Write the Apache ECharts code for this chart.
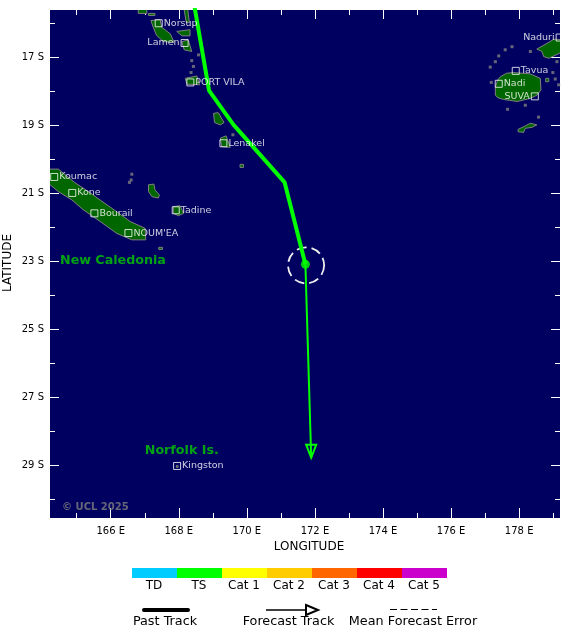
<!DOCTYPE html>
<html><head><meta charset="utf-8">
<style>html,body{margin:0;padding:0;background:#fff}#c{width:580px;height:638px}</style>
<script src="https://cdn.jsdelivr.net/npm/echarts@6/dist/echarts.min.js"></script>
</head><body><div id="c"></div>
<script>
const lonMajor=[166,168,170,172,174,176,178];
const lonMinor=[165,167,169,171,173,175,177,179];
const latMajor=[17,19,21,23,25,27,29];
const latMinor=[16,18,20,22,24,26,28,30];
const pastTrack=[[168.44,15.4],[168.89,17.99],[169.61,19.0],[171.11,20.69],[171.72,23.1]];
const forecastTrack=[[171.72,23.1],[171.89,28.79]];
const currentPos=[[171.72,23.1]];
const meanError=[[171.74,23.13,0.53]];
const categories=['TD','TS','Cat 1','Cat 2','Cat 3','Cat 4','Cat 5'];
const catColors=['#00ccff','#00ff00','#ffff00','#ffcc00','#ff6600','#ff0000','#cc00cc'];
const islands=[
[[164.1,20.3],[164.46,20.3],[164.61,20.42],[164.95,20.7],[165.39,20.99],[165.69,21.21],[166.13,21.52],[166.57,21.84],[167.01,22.04],[167.03,22.38],[166.62,22.38],[166.18,22.19],[165.69,21.84],[165.2,21.5],[164.85,21.2],[164.46,20.96],[164.1,20.66]],
[[167.11,20.76],[167.27,20.74],[167.3,20.91],[167.43,21.06],[167.4,21.15],[167.21,21.11],[167.11,20.96]],
[[167.84,21.4],[168.04,21.38],[168.14,21.6],[167.99,21.67],[167.84,21.6]],
[[167.18,15.93],[167.45,15.9],[167.5,16.13],[167.75,16.32],[167.86,16.57],[167.55,16.55],[167.35,16.37],[167.25,16.13]],
[[167.94,16.25],[168.33,16.2],[168.33,16.38],[168.09,16.38]],
[[168.14,15.5],[168.25,15.5],[168.31,15.99],[168.22,15.99]],
[[168.09,16.55],[168.28,16.5],[168.38,16.84],[168.16,16.79]],
[[166.81,15.5],[167.06,15.5],[167.06,15.72],[166.81,15.72]],
[[167.11,15.72],[167.3,15.72],[167.3,15.78],[167.11,15.78]],
[[168.19,17.63],[168.53,17.56],[168.61,17.82],[168.24,17.8]],
[[169.02,18.66],[169.16,18.64],[169.33,18.93],[169.22,19],[169.05,18.93]],
[[169.22,19.39],[169.39,19.32],[169.51,19.66],[169.26,19.64]],
[[177.3,17.89],[177.37,17.68],[177.45,17.58],[177.63,17.48],[177.84,17.46],[178.33,17.5],[178.62,17.63],[178.64,17.97],[178.53,18.12],[178.33,18.22],[177.94,18.31],[177.54,18.25],[177.37,18.2],[177.3,18.12]],
[[178.52,16.77],[178.82,16.6],[179.02,16.48],[179.4,16.5],[179.4,16.79],[178.87,17.04],[178.72,16.99],[178.67,16.84]],
[[177.97,19.13],[178.18,19.03],[178.33,18.95],[178.52,19],[178.38,19.07],[178.18,19.1],[178.13,19.22],[177.97,19.2]],
[[178.78,17.63],[178.87,17.63],[178.87,17.73],[178.78,17.73]],
[[169.8,20.16],[169.9,20.16],[169.9,20.25],[169.8,20.25]],
[[167.41,22.6],[167.52,22.6],[167.52,22.66],[167.41,22.66]],
[[167.93,29.02],[167.98,29.02],[167.98,29.07],[167.93,29.07]]
];
const islets=[[166.55,20.69],[166.6,20.62],[166.62,20.45],[168.58,16.94],[168.38,17.11],[168.43,17.28],[168.36,17.46],[169.59,19.29],[178.18,18.42],[177.66,18.54],[178.57,18.77],[178.33,16.84],[177.18,17.75],[177.15,17.3],[177.3,17.14],[177.4,16.97],[177.59,16.79],[177.79,16.7],[178.99,17.46],[179.06,17.65],[179.16,17.82],[179.11,17.14]];
const citiesRight=[['Norsup',167.41,16.01],['PORT VILA',168.34,17.75],['Lenakel',169.31,19.54],['Koumac',164.34,20.53],['Kone',164.87,21.0],['Bourail',165.52,21.6],["NOUM'EA",166.52,22.18],['Tadine',167.91,21.51],['Kingston',167.95,29.03],['Tavua',177.9,17.41],['Nadi',177.4,17.79]];
const citiesLeft=[['Lamen',168.17,16.59],['Naduri',179.19,16.43],['SUVA',178.46,18.16]];
const regionLabels=[['New Caledonia',164.51,23.0],['Norfolk Is.',167.0,28.59]];
const creditLabel=[['© UCL 2025',164.57,30.24]];

const F='"DejaVu Sans"';
const xBounds={min:164.216,max:179.2}, yBounds={min:15.62,max:30.56};
function xAxis(pos,vals,len,label){return Object.assign({type:'value',position:pos},xBounds,{
  splitLine:{show:false},axisLine:{show:false},
  axisTick:{show:true,inside:true,length:len,customValues:vals,lineStyle:{color:'#fff',width:1}},
  axisLabel:label?{show:true,customValues:vals,color:'#000',fontFamily:F,fontSize:10,margin:8,formatter:v=>v+' E'}:{show:false},
  name:label?'LONGITUDE':'',nameLocation:'middle',nameGap:22,nameTextStyle:{color:'#000',fontFamily:F,fontSize:12,padding:[0,0,0,8]}});}
function yAxis(pos,vals,len,label){return Object.assign({type:'value',position:pos,inverse:true},yBounds,{
  splitLine:{show:false},axisLine:{show:false},
  axisTick:{show:true,inside:true,length:len,customValues:vals,lineStyle:{color:'#fff',width:1}},
  axisLabel:label?{show:true,customValues:vals,color:'#000',fontFamily:F,fontSize:10,margin:6,formatter:v=>v+' S'}:{show:false}});}

const graphic=[];
categories.forEach((c,i)=>{
  graphic.push({type:'rect',shape:{x:132+45*i,y:568,width:45,height:10},style:{fill:catColors[i]}});
  graphic.push({type:'text',x:154+45*i,y:586,style:{text:c,fill:'#000',font:'12px '+F,textAlign:'center',textVerticalAlign:'middle'}});
});
graphic.push(
 {type:'text',x:8,y:263,rotation:Math.PI/2,style:{text:'LATITUDE',fill:'#000',font:'12px '+F,textAlign:'center',textVerticalAlign:'middle'}},
 {type:'line',shape:{x1:144,y1:610,x2:188,y2:610},style:{stroke:'#000',lineWidth:4,lineCap:'round'}},
 {type:'line',shape:{x1:266,y1:610,x2:306,y2:610},style:{stroke:'#000',lineWidth:1.5}},
 {type:'polygon',shape:{points:[[306,605],[318,610],[306,615]]},style:{fill:'none',stroke:'#000',lineWidth:2}},
 {type:'line',shape:{x1:390,y1:609.5,x2:437,y2:609.5},style:{stroke:'#000',lineWidth:1,lineDash:[7,3.5]}},
 {type:'text',x:165,y:622,style:{text:'Past Track',fill:'#000',font:'12.8px '+F,textAlign:'center',textVerticalAlign:'middle'}},
 {type:'text',x:288.5,y:622,style:{text:'Forecast Track',fill:'#000',font:'12.8px '+F,textAlign:'center',textVerticalAlign:'middle'}},
 {type:'text',x:413,y:622,style:{text:'Mean Forecast Error',fill:'#000',font:'12.8px '+F,textAlign:'center',textVerticalAlign:'middle'}}
);

function cityScatter(list,pos){return {type:'scatter',z:5,symbol:'rect',symbolSize:7,silent:true,
  itemStyle:{color:'rgba(0,0,0,0)',borderColor:'#fff',borderWidth:1},
  data:list.map(c=>({value:[c[1],c[2]],name:c[0]})),
  label:{show:true,position:pos,distance:1,formatter:'{b}',color:'#fff',fontFamily:F,fontSize:9.5}};}
function textScatter(list,style){return {type:'scatter',z:6,symbolSize:0,silent:true,
  data:list.map(c=>({value:[c[1],c[2]],name:c[0]})),
  label:Object.assign({show:true,position:'right',distance:0,formatter:'{b}',fontFamily:F},style)};}

const chart=echarts.init(document.getElementById('c'),null,{renderer:'canvas'});
chart.setOption({animation:false,backgroundColor:'#fff',
 grid:{left:50,top:10,width:510,height:508,show:true,backgroundColor:'#000060',borderWidth:0,outerBoundsMode:'none'},
 xAxis:[xAxis('bottom',lonMajor,10,true),xAxis('bottom',lonMinor,5,false),xAxis('top',lonMajor,9,false),xAxis('top',lonMinor,5,false)],
 yAxis:[yAxis('left',latMajor,9,true),yAxis('left',latMinor,5,false),yAxis('right',latMajor,9,false),yAxis('right',latMinor,5,false)],
 graphic:graphic,
 series:[
  {type:'custom',z:1,clip:true,silent:true,coordinateSystem:'cartesian2d',data:islands.map((p,i)=>[i]),
   encode:{x:[],y:[]},
   renderItem:(params,api)=>({type:'polygon',shape:{points:islands[api.value(0)].map(p=>api.coord(p))},
     style:{fill:'#006600',stroke:'#808080',lineWidth:1}})},
  {type:'scatter',z:1,symbol:'rect',symbolSize:3,silent:true,itemStyle:{color:'#808080'},data:islets},
  {type:'line',z:3,data:pastTrack,symbol:'none',clip:true,silent:true,lineStyle:{color:'#00ff00',width:4}},
  {type:'line',z:3,data:forecastTrack,symbol:'none',silent:true,lineStyle:{color:'#00ff00',width:2}},
  {type:'scatter',z:4,data:currentPos,symbol:'circle',symbolSize:9,silent:true,itemStyle:{color:'#00ff00'}},
  {type:'custom',z:2,coordinateSystem:'cartesian2d',silent:true,data:meanError,
   renderItem:(params,api)=>{const c=api.coord([api.value(0),api.value(1)]);const r=api.size([api.value(2),0])[0];
     return {type:'circle',shape:{cx:c[0],cy:c[1],r:r},style:{fill:'none',stroke:'#eeeeee',lineWidth:1.8,lineDash:[10,5]}};}},
  {type:'custom',z:3,coordinateSystem:'cartesian2d',silent:true,data:[forecastTrack[1]],
   renderItem:(params,api)=>{const c=api.coord([api.value(0),api.value(1)]);
     return {type:'polygon',shape:{points:[[c[0]-5,c[1]-13],[c[0]+5,c[1]-13],[c[0],c[1]]]},style:{fill:'none',stroke:'#00ff00',lineWidth:2}};}},
  cityScatter(citiesRight,'right'),
  cityScatter(citiesLeft,'left'),
  textScatter(regionLabels,{color:'#00cc00',fontWeight:'bold',fontSize:12.7}),
  textScatter(creditLabel,{color:'#808080',fontWeight:'bold',fontSize:10})
 ]});
</script></body></html>
